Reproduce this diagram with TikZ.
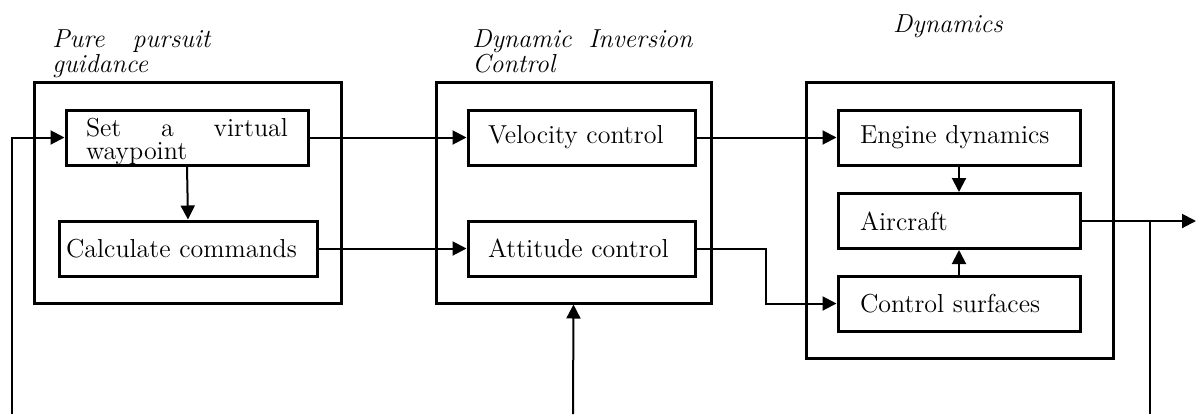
\documentclass[tikz,border=0pt]{standalone}
\usetikzlibrary{arrows.meta}
\begin{document}
\begin{tikzpicture}[x=0.5pt,y=-0.5pt,
  every node/.style={font=\fontsize{13}{11.5}\selectfont},
  outerbox/.style={draw,line width=1.5pt,inner sep=0pt},
  blockbox/.style={draw,line width=1.5pt,minimum height=27.5pt,inner ysep=1pt,inner xsep=10pt,align=left},
  grouplabel/.style={inner sep=0pt,align=left,font=\fontsize{13}{11.5}\selectfont\itshape},
  conn/.style={line width=1pt},
  arr/.style={conn,-{Triangle[length=7pt,width=7pt]}}]
\useasboundingbox (0,0) rectangle (1196,414);
% outer boxes
\node[outerbox,minimum width=153.5pt,minimum height=110.5pt] (g1) at (187.5,192.5) {};
\node[outerbox,minimum width=137.5pt,minimum height=110.5pt] (g2) at (573.5,192.5) {};
\node[outerbox,minimum width=153.5pt,minimum height=138pt] (g3) at (959.5,220) {};
% labels
\node[grouplabel,text width=79pt,anchor=base west] (l1) at (52,47) {Pure\hfill pursuit\\guidance};
\node[grouplabel,text width=110pt,anchor=base west] (l2) at (472,47) {Dynamic\hfill Inversion\\Control};
\node[grouplabel,anchor=base] (l3) at (948,32) {Dynamics};
% inner blocks
\node[blockbox,minimum width=121pt,inner xsep=0pt,align=center] (swp) at (187,137.5)
  {\raisebox{-4.75pt}[0pt][0pt]{\parbox[c]{101pt}{Set\hfill a\hfill virtual\\waypoint}}};
\node[blockbox,text width=122pt,inner xsep=3.5pt] (calc) at (188,248.5) {Calculate commands};
\node[blockbox,text width=93.5pt] (vel) at (581.5,137.5) {Velocity control};
\node[blockbox,text width=93.5pt] (att) at (581.5,248.5) {Attitude control};
\node[blockbox,text width=99pt,inner xsep=11pt] (eng) at (959,137.5) {Engine dynamics};
\node[blockbox,text width=99pt,inner xsep=11pt] (air) at (959,221) {Aircraft};
\node[blockbox,text width=99pt,inner xsep=11pt] (cs) at (959,303.5) {Control surfaces};
% coordinates
\coordinate (fbl) at (12,414);
\coordinate (dib) at (573,414);
\coordinate (k) at (766,248.5);
\coordinate (out) at (1196,221);
\coordinate (br) at (1150,221);
\coordinate (brb) at (1150,414);
% connectors
\draw[arr] (fbl) |- (swp.west);
\draw[arr] (swp.south) -- (calc.north);
\draw[arr] (swp.east) -- (vel.west);
\draw[arr] (calc.east) -- (att.west);
\draw[arr] (vel.east) -- (eng.west);
\draw[arr] (att.east) -- (k) |- (cs.west);
\draw[arr] (eng.south) -- (air.north);
\draw[arr] (cs.north) -- (air.south);
\draw[arr] (air.east) -- (out);
\draw[conn] (br) -- (brb);
\draw[arr] (dib) -- (g2.south);
\end{tikzpicture}
\end{document}
